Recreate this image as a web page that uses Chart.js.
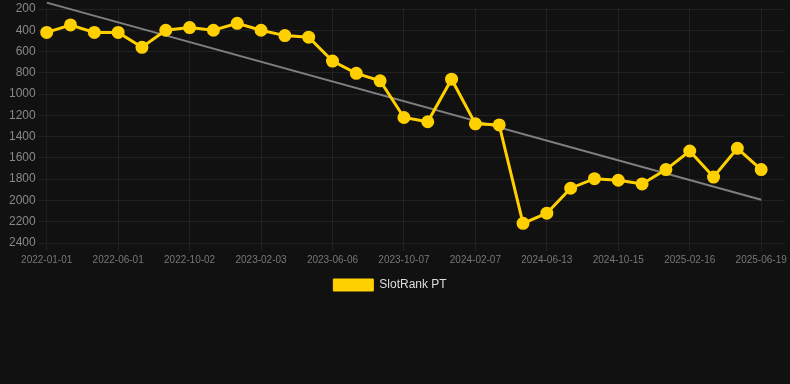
<!DOCTYPE html>
<html>
<head>
<meta charset="utf-8">
<script src="https://cdn.jsdelivr.net/npm/chart.js@4.4.0/dist/chart.umd.min.js"></script>
<style>
  html, body { margin: 0; padding: 0; background: #111111; overflow: hidden; }
  .wrap { width: 794px; height: 301px; }
</style>
</head>
<body>
<div class="wrap"><canvas id="chart"></canvas></div>
<script>
const dates = [
  '2022-01-01', '2022-02-20', '2022-04-12', '2022-06-01', '2022-07-12', '2022-08-22',
  '2022-10-02', '2022-11-12', '2022-12-23', '2023-02-03', '2023-03-16', '2023-04-26',
  '2023-06-06', '2023-07-17', '2023-08-27', '2023-10-07', '2023-11-17', '2023-12-28',
  '2024-02-07', '2024-03-19', '2024-05-01', '2024-06-13', '2024-07-24', '2024-09-03',
  '2024-10-15', '2024-11-25', '2025-01-05', '2025-02-16', '2025-03-29', '2025-05-09',
  '2025-06-19', ''
];
const rankPT = [
  420, 350, 420, 420, 560, 400, 375, 400, 335, 400, 450, 465,
  690, 805, 875, 1220, 1260, 860, 1280, 1290, 2215, 2120, 1885, 1795,
  1810, 1845, 1710, 1535, 1780, 1510, 1710
];
// trend line: only the two ends, gap in between is spanned
const trend = [140].concat(new Array(29).fill(null), [1993]);
const yTicks = { min: 200, max: 2400, step: 200 };

const gridColor = 'rgba(255,255,255,0.07)';

// nudge the legend a bit to the left, like the original
const legendShift = {
  id: 'legendShift',
  afterLayout(chart) {
    chart.legend.left -= 8;
    chart.legend.right -= 8;
  }
};

new Chart(document.getElementById('chart'), {
  type: 'line',
  data: {
    labels: dates,
    datasets: [
      {
        label: 'SlotRank PT',
        data: rankPT,
        borderColor: '#FFD000',
        backgroundColor: '#FFD000',
        borderWidth: 3,
        pointRadius: 5,
        pointHoverRadius: 6,
        tension: 0
      },
      {
        label: 'trend',
        data: trend,
        borderColor: 'rgba(140,140,140,0.9)',
        borderWidth: 2,
        pointRadius: 0,
        spanGaps: true,
        clip: false
      }
    ]
  },
  options: {
    responsive: true,
    maintainAspectRatio: false,
    animation: false,
    layout: { padding: { left: 6, right: 4 } },
    scales: {
      x: {
        grid: {
          color: (ctx) => (ctx.index % 3 === 0 ? gridColor : 'rgba(0,0,0,0)')
        },
        ticks: {
          autoSkip: false,
          maxRotation: 0,
          color: '#777',
          font: { size: 10 },
          callback: function (value, index) {
            return index % 3 === 0 ? this.getLabelForValue(value) : '';
          }
        }
      },
      y: {
        reverse: true,
        min: yTicks.min,
        max: yTicks.max,
        grid: { color: gridColor },
        ticks: {
          stepSize: yTicks.step,
          color: '#888',
          font: { size: 12, lineHeight: 0.6 },
          callback: (v) => String(v)
        }
      }
    },
    plugins: {
      legend: {
        position: 'bottom',
        labels: {
          color: '#ddd',
          font: { size: 12 },
          boxWidth: 40,
          boxHeight: 12,
          filter: (item) => item.text !== 'trend',
          generateLabels: (chart) =>
            Chart.defaults.plugins.legend.labels.generateLabels(chart)
              .map((item) => Object.assign(item, { lineWidth: 1 }))
        }
      },
      tooltip: { enabled: false }
    }
  },
  plugins: [legendShift]
});
</script>
</body>
</html>
